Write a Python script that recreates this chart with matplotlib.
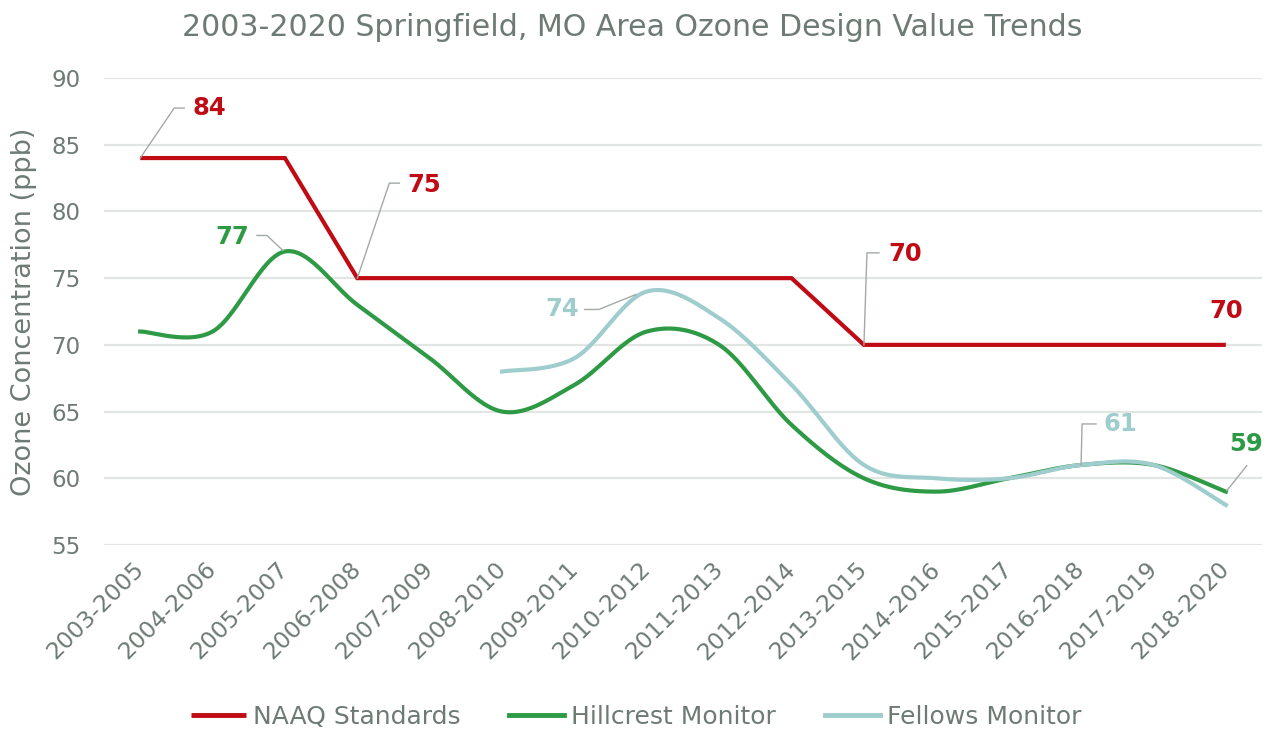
import numpy as np
import matplotlib
matplotlib.use("Agg")
import matplotlib.pyplot as plt
from matplotlib.lines import Line2D

plt.rcParams['font.family'] = ['DejaVu Sans']

categories = ["2003-2005", "2004-2006", "2005-2007", "2006-2008", "2007-2009",
              "2008-2010", "2009-2011", "2010-2012", "2011-2013", "2012-2014",
              "2013-2015", "2014-2016", "2015-2017", "2016-2018", "2017-2019",
              "2018-2020"]
naaqs = [84, 84, 84, 75, 75, 75, 75, 75, 75, 75, 70, 70, 70, 70, 70, 70]
hillcrest = [71, 71, 77, 73, 69, 65, 67, 71, 70, 64, 60, 59, 60, 61, 61, 59]
fellows = [None, None, None, None, None, 68, 69, 74, 72, 67, 61, 60, 60, 61, 61, 58]
yticks = [55, 60, 65, 70, 75, 80, 85, 90]

RED = "#C00A14"
GREEN = "#2E9A45"
LBLUE = "#9FCDCD"
TXT = "#6E7B74"
GRID = "#E2E6E3"
LEAD = "#A3AAA6"

W, H = 1271, 729
fig = plt.figure(figsize=(W / 100, H / 100), dpi=100)
ax = fig.add_axes([104 / W, 1 - 545 / H, (1262 - 104) / W, (545 - 78) / H])


def smooth(xs, ys, n=30):
    xs = np.asarray(xs, float)
    ys = np.asarray(ys, float)
    P = np.column_stack([xs, ys])
    out = [P[0]]
    m = len(P)
    for i in range(m - 1):
        p0 = P[i - 1] if i > 0 else P[i]
        p1 = P[i]
        p2 = P[i + 1]
        p3 = P[i + 2] if i + 2 < m else P[i + 1]
        b1 = p1 + (p2 - p0) / 6
        b2 = p2 - (p3 - p1) / 6
        t = np.linspace(0, 1, n)[1:, None]
        seg = ((1 - t) ** 3) * p1 + 3 * ((1 - t) ** 2) * t * b1 + 3 * (1 - t) * t ** 2 * b2 + t ** 3 * p2
        out.extend(seg)
    out = np.array(out)
    return out[:, 0], out[:, 1]


x = np.arange(len(categories))
ax.plot(x, naaqs, color=RED, lw=3.0, solid_joinstyle='miter', solid_capstyle='butt',
        label="NAAQ Standards", zorder=3)
hx, hy = smooth(x, hillcrest)
ax.plot(hx, hy, color=GREEN, lw=3.0, label="Hillcrest Monitor", zorder=3)
fidx = [i for i, v in enumerate(fellows) if v is not None]
fx, fy = smooth(fidx, [fellows[i] for i in fidx])
ax.plot(fx, fy, color=LBLUE, lw=3.0, label="Fellows Monitor", zorder=3)

ax.set_xlim(-0.5, len(categories) - 0.5)
ax.set_ylim(55, 90)
ax.set_yticks(yticks)
ax.set_yticklabels([str(v) for v in yticks])
ax.set_xticks(x)
ax.set_xticklabels(categories, rotation=45, ha='right', va='center', rotation_mode='anchor')
ax.tick_params(axis='y', length=0, pad=17, labelsize=16.5, labelcolor=TXT)
ax.tick_params(axis='x', length=0, pad=15, labelsize=16.8, labelcolor=TXT)
ax.grid(axis='y', color=GRID, lw=1.6, zorder=0)
for s in ax.spines.values():
    s.set_visible(False)

ax.set_ylabel("Ozone Concentration (ppb)", fontsize=19.5, color=TXT, labelpad=10)
fig.text(632 / W, 1 - 27 / H, "2003-2020 Springfield, MO Area Ozone Design Value Trends",
         ha='center', va='center', fontsize=21.6, color=TXT)

leg = fig.legend(loc='center', bbox_to_anchor=(636 / W, 1 - 717 / H), ncol=3, frameon=False,
                 fontsize=18, handlelength=2.2, handletextpad=0.28, columnspacing=1.95,
                 labelcolor=TXT)
for l in leg.get_lines():
    l.set_linewidth(3.5)

fig.canvas.draw()


def leader(xi, yi, offs):
    px, py = ax.transData.transform((xi, yi))
    pts = np.array([[px + dx, py + dy] for dx, dy in offs])
    fpts = fig.transFigure.inverted().transform(pts)
    fig.add_artist(Line2D(fpts[:, 0], fpts[:, 1], color=LEAD, lw=1.0, zorder=5))


def label(xi, yi, s, color, dx, dy, ha):
    ax.annotate(s, xy=(xi, yi), xytext=(dx, dy), textcoords='offset pixels',
                ha=ha, va='center', fontsize=17.5, fontweight='bold', color=color, zorder=6)


# 84
leader(0, naaqs[0], [(0, 0), (34, 50), (44, 50)])
label(0, naaqs[0], "84", RED, 52, 50, 'left')
# 75
leader(3, naaqs[3], [(0, 0), (32, 95), (42, 95)])
label(3, naaqs[3], "75", RED, 50, 93, 'left')
# 77
leader(2, hillcrest[2], [(-2, 1), (-18, 16), (-28, 16)])
label(2, hillcrest[2], "77", GREEN, -36, 14, 'right')
# 74
leader(7, fellows[7], [(-62, -18), (-48, -18), (-11, -3)])
label(7, fellows[7], "74", LBLUE, -68, -18, 'right')
# 70 (2013-2015)
leader(10, naaqs[10], [(0, 0), (3, 92), (15, 92)])
label(10, naaqs[10], "70", RED, 24, 91, 'left')
# 70 end
label(15, naaqs[15], "70", RED, 0, 34, 'center')
# 61
leader(13, fellows[13], [(0, 0), (1, 41), (15, 41)])
label(13, fellows[13], "61", LBLUE, 22, 41, 'left')
# 59
leader(15, hillcrest[15], [(1, 1), (21, 26)])
label(15, hillcrest[15], "59", GREEN, 20, 48, 'center')

fig.savefig("out.png", dpi=100)
